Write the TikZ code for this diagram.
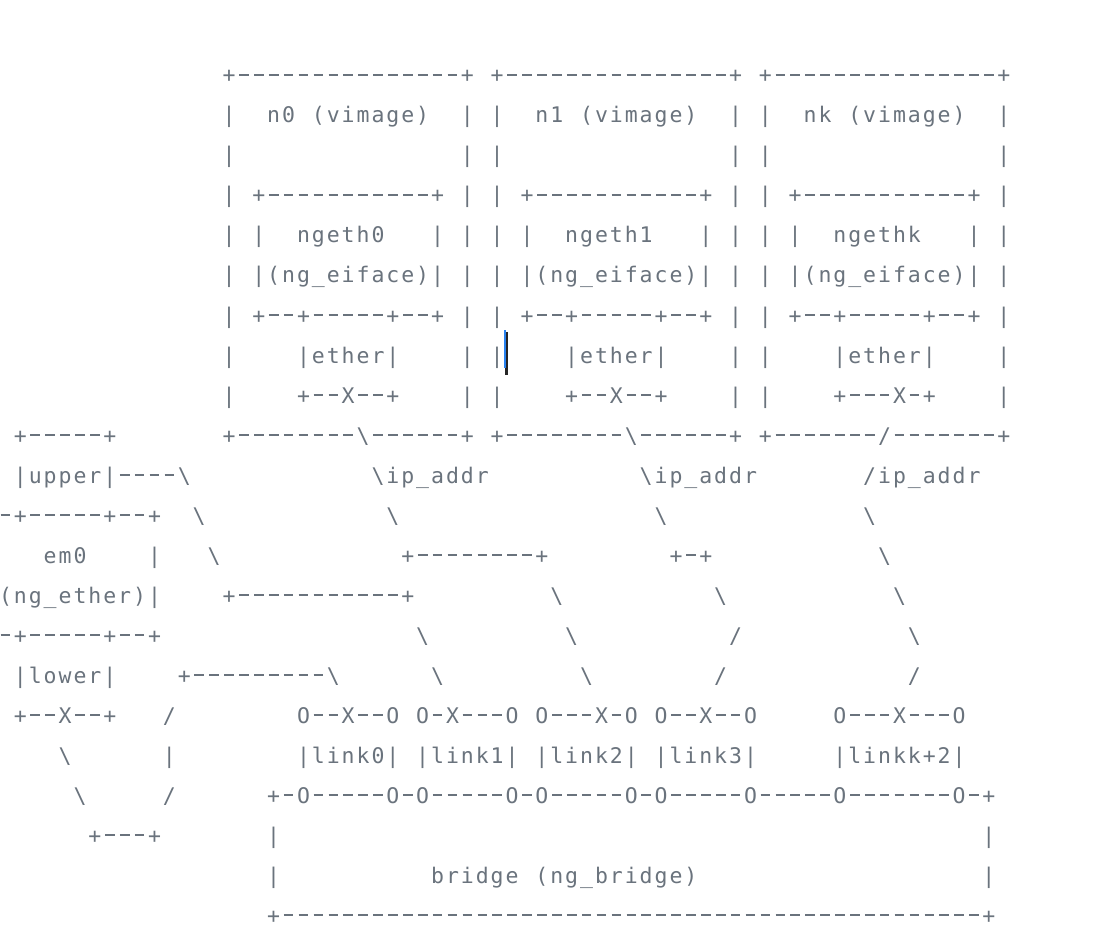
\documentclass[tikz,border=0pt]{standalone}
\usepackage{fontspec}
\newfontfamily\asciifont{DejaVu Sans Mono}
\definecolor{asciigray}{RGB}{106,115,125}
\definecolor{cursorblue}{RGB}{40,130,240}
\newcount\asciicol
\def\asciidash{-}
\makeatletter
\newcommand\aseg[3]{%
  \asciicol=#2\relax
  \@tfor\asciitok:=#3\do{%
    \ifx\asciitok\asciidash
      \node[asciichar] (c-#1-\the\asciicol) at ({\the\asciicol*14.9-9.4},{-83-#1*40}) {\rule[7.3pt]{9.6pt}{1.6pt}};%
    \else
      \node[asciichar] (c-#1-\the\asciicol) at ({\the\asciicol*14.9-9.4},{-83-#1*40}) {\asciitok};%
    \fi
    \advance\asciicol by 1\relax}%
}
\makeatother
\begin{document}
\begin{tikzpicture}[x=1pt,y=1pt,
  asciichar/.style={inner sep=0pt, anchor=base, text=asciigray,
    font={\asciifont\fontsize{21.5}{25}\selectfont}}]
\fill[white] (0,0) rectangle (1098,-944);
\useasboundingbox (0,0) rectangle (1098,-944);
% row 0
\aseg{0}{16}{+---------------+}
\aseg{0}{34}{+---------------+}
\aseg{0}{52}{+---------------+}
% row 1
\aseg{1}{16}{|}\aseg{1}{19}{n0}\aseg{1}{22}{(vimage)}\aseg{1}{32}{|}
\aseg{1}{34}{|}\aseg{1}{37}{n1}\aseg{1}{40}{(vimage)}\aseg{1}{50}{|}
\aseg{1}{52}{|}\aseg{1}{55}{nk}\aseg{1}{58}{(vimage)}\aseg{1}{68}{|}
% row 2
\aseg{2}{16}{|}\aseg{2}{32}{|}\aseg{2}{34}{|}\aseg{2}{50}{|}\aseg{2}{52}{|}\aseg{2}{68}{|}
% row 3
\aseg{3}{16}{|}\aseg{3}{18}{+-----------+}\aseg{3}{32}{|}
\aseg{3}{34}{|}\aseg{3}{36}{+-----------+}\aseg{3}{50}{|}
\aseg{3}{52}{|}\aseg{3}{54}{+-----------+}\aseg{3}{68}{|}
% row 4
\aseg{4}{16}{|}\aseg{4}{18}{|}\aseg{4}{21}{ngeth0}\aseg{4}{30}{|}\aseg{4}{32}{|}
\aseg{4}{34}{|}\aseg{4}{36}{|}\aseg{4}{39}{ngeth1}\aseg{4}{48}{|}\aseg{4}{50}{|}
\aseg{4}{52}{|}\aseg{4}{54}{|}\aseg{4}{57}{ngethk}\aseg{4}{66}{|}\aseg{4}{68}{|}
% row 5
\aseg{5}{16}{|}\aseg{5}{18}{|(ng\_eiface)|}\aseg{5}{32}{|}
\aseg{5}{34}{|}\aseg{5}{36}{|(ng\_eiface)|}\aseg{5}{50}{|}
\aseg{5}{52}{|}\aseg{5}{54}{|(ng\_eiface)|}\aseg{5}{68}{|}
% row 6
\aseg{6}{16}{|}\aseg{6}{18}{+--+-----+--+}\aseg{6}{32}{|}
\aseg{6}{34}{|}\aseg{6}{36}{+--+-----+--+}\aseg{6}{50}{|}
\aseg{6}{52}{|}\aseg{6}{54}{+--+-----+--+}\aseg{6}{68}{|}
% row 7
\aseg{7}{16}{|}\aseg{7}{21}{|ether|}\aseg{7}{32}{|}
\aseg{7}{34}{|}\aseg{7}{39}{|ether|}\aseg{7}{50}{|}
\aseg{7}{52}{|}\aseg{7}{57}{|ether|}\aseg{7}{68}{|}
% row 8
\aseg{8}{16}{|}\aseg{8}{21}{+--X--+}\aseg{8}{32}{|}
\aseg{8}{34}{|}\aseg{8}{39}{+--X--+}\aseg{8}{50}{|}
\aseg{8}{52}{|}\aseg{8}{57}{+---X-+}\aseg{8}{68}{|}
% row 9
\aseg{9}{2}{+-----+}
\aseg{9}{16}{+--------\textbackslash------+}
\aseg{9}{34}{+--------\textbackslash------+}
\aseg{9}{52}{+-------/-------+}
% row 10
\aseg{10}{2}{|upper|----\textbackslash}
\aseg{10}{26}{\textbackslash ip\_addr}
\aseg{10}{44}{\textbackslash ip\_addr}
\aseg{10}{59}{/ip\_addr}
% row 11
\aseg{11}{1}{-+-----+--+}
\aseg{11}{14}{\textbackslash}\aseg{11}{27}{\textbackslash}\aseg{11}{45}{\textbackslash}\aseg{11}{59}{\textbackslash}
% row 12
\aseg{12}{4}{em0}\aseg{12}{11}{|}\aseg{12}{15}{\textbackslash}
\aseg{12}{28}{+--------+}\aseg{12}{46}{+-+}\aseg{12}{60}{\textbackslash}
% row 13
\aseg{13}{1}{(ng\_ether)|}\aseg{13}{16}{+-----------+}
\aseg{13}{38}{\textbackslash}\aseg{13}{49}{\textbackslash}\aseg{13}{61}{\textbackslash}
% row 14
\aseg{14}{1}{-+-----+--+}
\aseg{14}{29}{\textbackslash}\aseg{14}{39}{\textbackslash}\aseg{14}{50}{/}\aseg{14}{62}{\textbackslash}
% row 15
\aseg{15}{2}{|lower|}\aseg{15}{13}{+---------\textbackslash}
\aseg{15}{30}{\textbackslash}\aseg{15}{40}{\textbackslash}\aseg{15}{49}{/}\aseg{15}{62}{/}
% row 16
\aseg{16}{2}{+--X--+}\aseg{16}{12}{/}
\aseg{16}{21}{O--X--O}\aseg{16}{29}{O-X---O}\aseg{16}{37}{O---X-O}\aseg{16}{45}{O--X--O}\aseg{16}{57}{O---X---O}
% row 17
\aseg{17}{5}{\textbackslash}\aseg{17}{12}{|}
\aseg{17}{21}{|link0|}\aseg{17}{29}{|link1|}\aseg{17}{37}{|link2|}\aseg{17}{45}{|link3|}\aseg{17}{57}{|linkk+2|}
% row 18
\aseg{18}{6}{\textbackslash}\aseg{18}{12}{/}
\aseg{18}{19}{+-O-----O-O-----O-O-----O-O-----O-----O-------O-+}
% row 19
\aseg{19}{7}{+---+}\aseg{19}{19}{|}\aseg{19}{67}{|}
% row 20
\aseg{20}{19}{|}\aseg{20}{30}{bridge}\aseg{20}{37}{(ng\_bridge)}\aseg{20}{67}{|}
% row 21
\aseg{21}{19}{+-----------------------------------------------+}
% text cursor
\fill[black!85] (504.5,-332) rectangle (507.5,-375);
\fill[cursorblue] (504,-330) rectangle (505.8,-368);
\end{tikzpicture}
\end{document}
